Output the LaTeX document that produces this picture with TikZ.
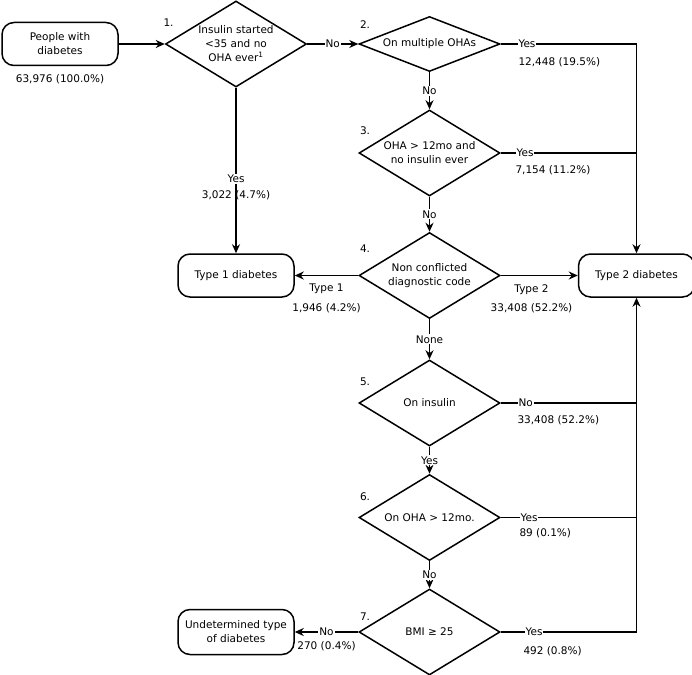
\documentclass[tikz,border=0pt]{standalone}
\usepackage{fontspec}
\setmainfont{DejaVu Sans}
\usepackage{tikz}
\usetikzlibrary{arrows.meta, positioning, shapes.geometric}

\begin{document}
\begin{tikzpicture}[x=1pt, y=-1pt, line width=1.5pt, >={Stealth[length=9pt, width=8pt]},
    font=\fontsize{10.5}{14}\selectfont,
    terminal/.style={rectangle, rounded corners=12pt, draw, minimum width=116pt, minimum height=43pt, align=center},
    decision/.style={diamond, draw, aspect=1.6, minimum width=141pt, minimum height=86pt, inner sep=-18pt, align=center},
    lab/.style={fill=white, inner sep=1pt},
    cnt/.style={inner sep=1pt},
    num/.style={inner sep=1pt}]
    \useasboundingbox (0,0) rectangle (692,674);

    \node (people) [terminal] at (60,44) {People with\\diabetes};
    \node (q1) [decision, right=46pt of people] {Insulin started\\<35 and no\\OHA ever\textsuperscript{1}};
    \node (q2) [decision, minimum height=55pt, right=51pt of q1] {On multiple OHAs};
    \node (q3) [decision, below=37pt of q2] {OHA > 12mo and\\no insulin ever};
    \node (q4) [decision, below=35pt of q3] {Non conflicted\\diagnostic code};
    \node (q5) [decision, below=40pt of q4] {On insulin};
    \node (q6) [decision, below=27pt of q5] {On OHA > 12mo.};
    \node (q7) [decision, below=27pt of q6] {BMI ≥ 25};

    \node (t1) [terminal] at (q1 |- q4) {Type 1 diabetes};
    \node (t2) [terminal, right=77pt of q4] {Type 2 diabetes};
    \node (und) [terminal, minimum height=45pt] at (q1 |- q7) {Undetermined type\\of diabetes};

    \node (npeople) [cnt, below=7pt of people] {63,976 (100.0\%)};
    \node (n1) [num, above right=16pt and -3pt of q1.west] {1.};
    \node (n2) [num, above right=14pt and 0pt of q2.west] {2.};
    \node (n3) [num, above right=17pt and 0pt of q3.west] {3.};
    \node (n4) [num, above right=21pt and 0pt of q4.west] {4.};
    \node (n5) [num, above right=16pt and 0pt of q5.west] {5.};
    \node (n6) [num, above right=15pt and 0pt of q6.west] {6.};
    \node (n7) [num, above right=10pt and 0pt of q7.west] {7.};

    \draw [->] (people) -- (q1);
    \draw [->] (q1) -- node [lab] {No} (q2);
    \draw [->] (q1) -- node [lab, pos=0.55] {Yes} node [cnt, pos=0.55, yshift=-16pt] {3,022 (4.7\%)} (t1);
    \draw [->] (q2) -- node [lab] {No} (q3);
    \draw [->] (q3) -- node [lab] {No} (q4);
    \draw [->] (q4) -- node [lab] {None} (q5);
    \draw [->] (q5) -- node [lab] {Yes} (q6);
    \draw [->] (q6) -- node [lab] {No} (q7);

    \draw [->] (q4) -- node [cnt, below=7pt] {Type 1} node [cnt, below=26pt] {1,946 (4.2\%)} (t1);
    \draw [->] (q4) -- node [cnt, pos=0.4, below=7pt] {Type 2} node [cnt, pos=0.4, below=26pt] {33,408 (52.2\%)} (t2);
    \draw [->] (q7) -- node [lab] {No} node [cnt, below=8pt] {270 (0.4\%)} (und);

    \draw [->] (q2) -| node [lab, pos=0, anchor=west, xshift=16pt] {Yes}
        node [cnt, pos=0, anchor=west, xshift=16pt, yshift=-18pt] {12,448 (19.5\%)} (t2);
    \draw (q3) -- node [lab, pos=0, anchor=west, xshift=14pt] {Yes}
        node [cnt, pos=0, anchor=west, xshift=13pt, yshift=-17pt] {7,154 (11.2\%)} (q3 -| t2);
    \draw (q5) -- node [lab, pos=0, anchor=west, xshift=16pt] {No}
        node [cnt, pos=0, anchor=west, xshift=15pt, yshift=-17pt] {33,408 (52.2\%)} (q5 -| t2);
    \draw (q6) -- node [lab, pos=0, anchor=west, xshift=18pt] {Yes}
        node [cnt, pos=0, anchor=west, xshift=17pt, yshift=-16pt] {89 (0.1\%)} (q6 -| t2);
    \draw [->] (q7) -| node [lab, pos=0, anchor=west, xshift=23pt] {Yes}
        node [cnt, pos=0, anchor=west, xshift=21pt, yshift=-19pt] {492 (0.8\%)} (t2);
\end{tikzpicture}
\end{document}
